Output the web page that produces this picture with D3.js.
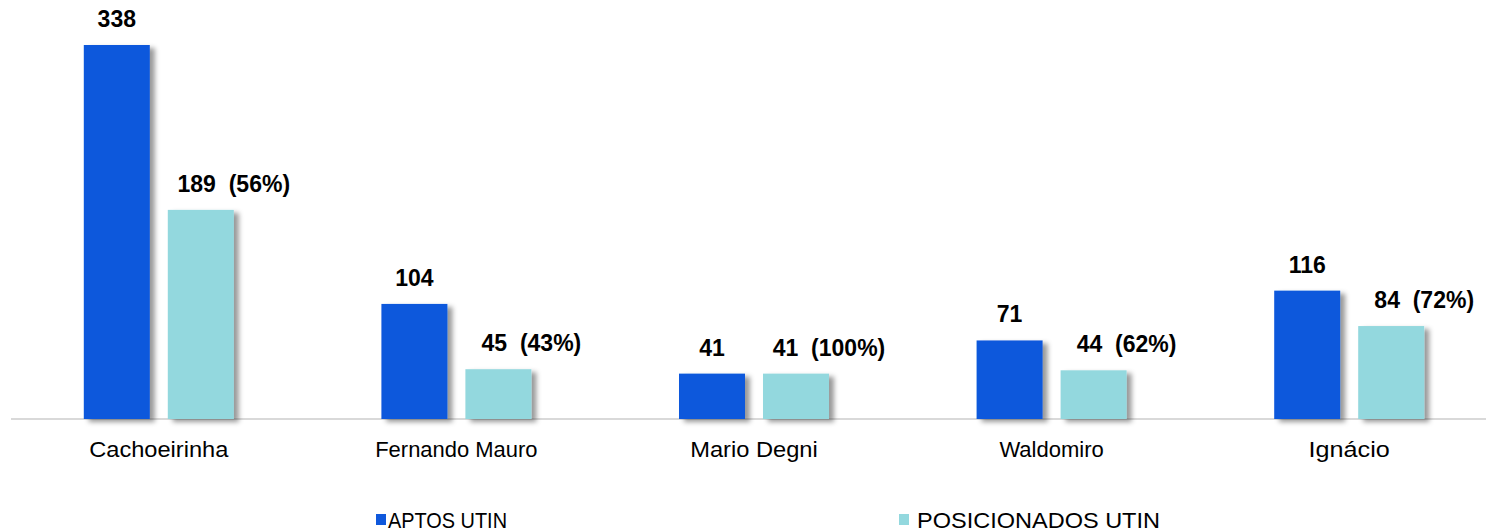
<!DOCTYPE html>
<html>
<head>
<meta charset="utf-8">
<script src="https://cdn.jsdelivr.net/npm/d3@7"></script>
<style>
  body { margin: 0; background: #fff; }
  svg { display: block; font-family: Arial, "Liberation Sans", sans-serif; }
  .val { font-weight: bold; font-size: 23px; fill: #000; white-space: pre; }
  .cat { font-size: 22px; fill: #000; }
  .leg { font-size: 22px; fill: #000; }
</style>
</head>
<body>
<div id="chart"></div>
<script>
// data
var categories = ["Cachoeirinha", "Fernando Mauro", "Mario Degni", "Waldomiro", "Ignácio"];
var series = ["APTOS UTIN", "POSICIONADOS UTIN"];
var aptos = [338, 104, 41, 71, 116];
var posicionados = [189, 45, 41, 44, 84];
var percent = ["56%", "43%", "100%", "62%", "72%"];

var colors = ["#0f58dc", "#93d8de"];

var w = 1486, h = 532;

var svg = d3.select("#chart").append("svg")
  .attr("width", w).attr("height", h);

// shadow behind the bars
var defs = svg.append("defs");
var f = defs.append("filter").attr("id", "shadow")
  .attr("x", "-20%").attr("y", "-20%").attr("width", "150%").attr("height", "150%");
f.append("feDropShadow")
  .attr("dx", 5).attr("dy", 3)
  .attr("stdDeviation", 2.5)
  .attr("flood-color", "#000")
  .attr("flood-opacity", 0.4);

var x0 = d3.scaleBand().domain(categories).range([10, 1498]);
var bw = x0.bandwidth();
var x1 = d3.scaleBand().domain(series)
  .range([bw / 2 - 75, bw / 2 + 75])
  .paddingInner(18 / 84);

var y = d3.scaleLinear().domain([0, d3.max(aptos)]).range([419, 45]);

// baseline
svg.append("line")
  .attr("x1", 11).attr("x2", w)
  .attr("y1", 419).attr("y2", 419)
  .attr("stroke", "#d9d9d9").attr("stroke-width", 2);

var rows = categories.map(function(c, i) {
  return { cat: c, vals: [aptos[i], posicionados[i]], pct: percent[i] };
});

var g = svg.selectAll("g.grp")
  .data(rows)
  .enter().append("g")
  .attr("class", "grp")
  .attr("transform", function(d) { return "translate(" + x0(d.cat) + ",0)"; });

g.selectAll("rect")
  .data(function(d) { return d.vals.map(function(v, j) { return { s: series[j], v: v, j: j }; }); })
  .enter().append("rect")
  .attr("x", function(d) { return x1(d.s); })
  .attr("y", function(d) { return y(d.v); })
  .attr("width", x1.bandwidth())
  .attr("height", function(d) { return y(0) - y(d.v); })
  .attr("fill", function(d) { return colors[d.j]; })
  .attr("filter", "url(#shadow)");

// value labels
g.append("text")
  .attr("class", "val")
  .attr("text-anchor", "middle")
  .attr("x", x1(series[0]) + x1.bandwidth() / 2)
  .attr("y", function(d) { return y(d.vals[0]) - 18; })
  .text(function(d) { return d.vals[0]; });

g.append("text")
  .attr("class", "val")
  .attr("text-anchor", "middle")
  .attr("x", x1(series[1]) + x1.bandwidth() / 2 + 33)
  .attr("y", function(d) { return y(d.vals[1]) - 18; })
  .text(function(d) { return d.vals[1] + "  (" + d.pct + ")"; });

// category labels
g.append("text")
  .attr("class", "cat")
  .attr("text-anchor", "middle")
  .attr("x", bw / 2)
  .attr("y", 457)
  .attr("textLength", function(d) { return d.cat.length * 11.6; })
  .attr("lengthAdjust", "spacingAndGlyphs")
  .text(function(d) { return d.cat; });

// legend
var legX = [376, 899], legW = [119, 243];
var leg = svg.selectAll("g.leg")
  .data(series)
  .enter().append("g")
  .attr("transform", function(d, i) { return "translate(" + legX[i] + ",0)"; });

leg.append("rect")
  .attr("x", 0).attr("y", 514)
  .attr("width", 10).attr("height", 11)
  .attr("fill", function(d, i) { return colors[i]; });

leg.append("text")
  .attr("class", "leg")
  .attr("x", function(d, i) { return i == 0 ? 12 : 18; })
  .attr("y", 528)
  .attr("textLength", function(d, i) { return legW[i]; })
  .attr("lengthAdjust", "spacingAndGlyphs")
  .text(function(d) { return d; });
</script>
</body>
</html>
